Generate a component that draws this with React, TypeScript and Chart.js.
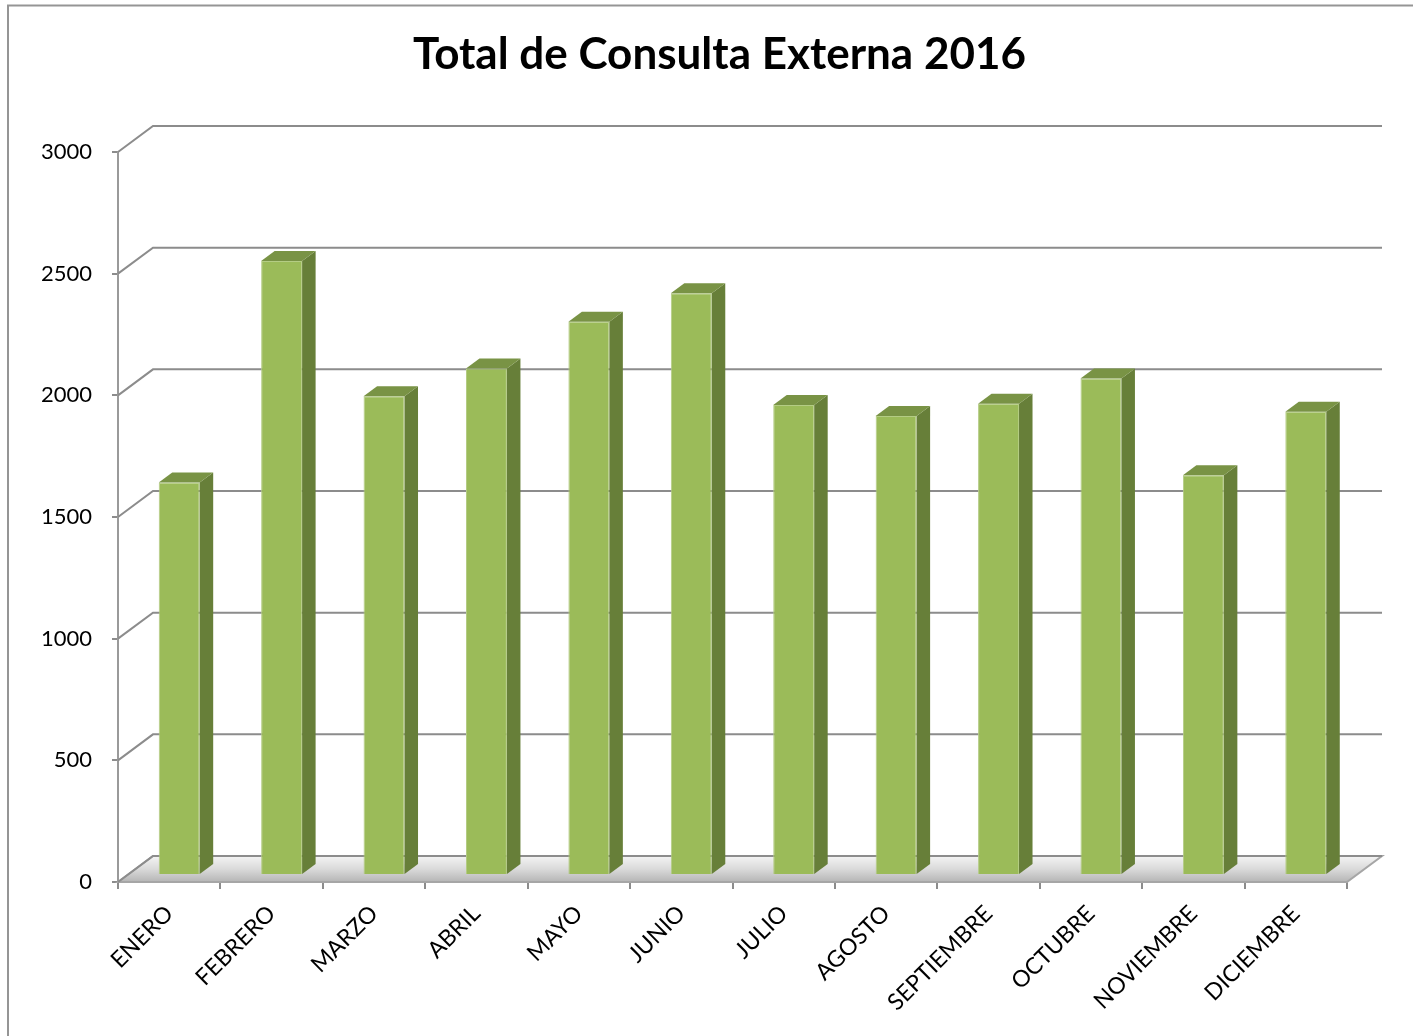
import React, { useEffect, useRef } from 'react';
import { Chart, registerables } from 'chart.js';

Chart.register(...registerables);

// ---- data ----
const categories = [
  'ENERO', 'FEBRERO', 'MARZO', 'ABRIL', 'MAYO', 'JUNIO',
  'JULIO', 'AGOSTO', 'SEPTIEMBRE', 'OCTUBRE', 'NOVIEMBRE', 'DICIEMBRE',
];
const consultas = [1613, 2523, 1967, 2081, 2274, 2391, 1931, 1886, 1937, 2040, 1643, 1904];
const yMin = 0;
const yMax = 3000;
const yStep = 500;
const chartTitle = 'Total de Consulta Externa 2016';

// ---- 3D look ----
const WALL_DX = 35;
const WALL_DY = -26;
const BAR_DX = 10;
const BAR_DY = -7;
const DEPTH_DX = 13.5;
const DEPTH_DY = -10;
const GRID = '#8c8c8c';
const FRONT = '#9bbb59';
const SIDE = '#677f39';
const TOP = '#799345';

const excel3d = {
  id: 'excel3d',
  beforeDraw(chart: any) {
    const ctx = chart.ctx;
    ctx.save();
    ctx.fillStyle = '#ffffff';
    ctx.fillRect(0, 0, chart.width, chart.height);
    ctx.strokeStyle = '#959595';
    ctx.lineWidth = 2;
    ctx.beginPath();
    ctx.moveTo(8, chart.height);
    ctx.lineTo(8, 5.5);
    ctx.lineTo(chart.width, 5.5);
    ctx.stroke();
    ctx.restore();
  },
  beforeDatasetsDraw(chart: any) {
    const ctx = chart.ctx;
    const a = chart.chartArea;
    const y = chart.scales.y;
    ctx.save();
    // floor
    const g = ctx.createLinearGradient(0, a.bottom + WALL_DY, 0, a.bottom);
    g.addColorStop(0, '#f4f4f4');
    g.addColorStop(0.5, '#dadada');
    g.addColorStop(1, '#b5b5b5');
    ctx.fillStyle = g;
    ctx.beginPath();
    ctx.moveTo(a.left, a.bottom);
    ctx.lineTo(a.left + WALL_DX, a.bottom + WALL_DY);
    ctx.lineTo(a.right + WALL_DX, a.bottom + WALL_DY);
    ctx.lineTo(a.right, a.bottom);
    ctx.closePath();
    ctx.fill();
    ctx.strokeStyle = '#a6a6a6';
    ctx.lineWidth = 2;
    ctx.stroke();
    // back wall + left wall gridlines
    ctx.strokeStyle = GRID;
    ctx.lineWidth = 2;
    for (let v = yMin; v <= yMax; v += yStep) {
      const py = y.getPixelForValue(v);
      ctx.beginPath();
      ctx.moveTo(a.left, py);
      ctx.lineTo(a.left + WALL_DX, py + WALL_DY);
      ctx.lineTo(a.right + WALL_DX, py + WALL_DY);
      ctx.stroke();
    }
    ctx.restore();
    ctx.save();
    ctx.translate(BAR_DX, BAR_DY);
  },
  afterDatasetsDraw(chart: any) {
    const ctx = chart.ctx;
    const meta = chart.getDatasetMeta(0);
    meta.data.forEach((bar: any) => {
      const { x, y, base, width } = bar.getProps(['x', 'y', 'base', 'width'], true);
      const l = x - width / 2;
      const r = x + width / 2;
      // side
      ctx.fillStyle = SIDE;
      ctx.beginPath();
      ctx.moveTo(r, y);
      ctx.lineTo(r + DEPTH_DX, y + DEPTH_DY);
      ctx.lineTo(r + DEPTH_DX, base + DEPTH_DY);
      ctx.lineTo(r, base);
      ctx.closePath();
      ctx.fill();
      // top
      ctx.fillStyle = TOP;
      ctx.beginPath();
      ctx.moveTo(l, y);
      ctx.lineTo(l + DEPTH_DX, y + DEPTH_DY);
      ctx.lineTo(r + DEPTH_DX, y + DEPTH_DY);
      ctx.lineTo(r, y);
      ctx.closePath();
      ctx.fill();
    });
    ctx.restore();
  },
};

export default function App() {
  const ref = useRef<HTMLCanvasElement | null>(null);

  useEffect(() => {
    if (!ref.current) return;
    const chart = new Chart(ref.current, {
      type: 'bar',
      data: {
        labels: categories,
        datasets: [
          {
            data: consultas,
            backgroundColor: FRONT,
            borderColor: '#b4cc84',
            borderWidth: 1,
            barPercentage: 0.4,
            categoryPercentage: 1,
            clip: false as any,
            yAxisID: 'y',
          },
        ],
      },
      options: {
        responsive: false,
        animation: false,
        events: [],
        layout: { padding: { left: 26, right: 0, top: 0, bottom: 0 } },
        plugins: {
          legend: { display: false },
          tooltip: { enabled: false },
          title: {
            display: true,
            text: chartTitle,
            color: '#000',
            font: { family: 'Lato', size: 44, weight: 'bold', lineHeight: 1.2 },
            padding: { top: 28, bottom: 71.2 },
          },
        },
        scales: {
          x: {
            offset: true,
            grid: {
              offset: true,
              drawOnChartArea: false,
              drawTicks: true,
              tickLength: 7,
              color: GRID,
              lineWidth: 2,
            },
            border: { display: true, color: '#a0a0a0', width: 2 },
            ticks: {
              autoSkip: false,
              maxRotation: 45,
              minRotation: 45,
              color: '#000',
              padding: 11,
              font: { family: 'Lato', size: 23 },
            },
            afterFit: (s: any) => {
              s.height = 154;
            },
          },
          y: {
            min: yMin,
            max: yMax,
            ticks: {
              stepSize: yStep,
              color: '#000',
              padding: 20,
              font: { family: 'Lato', size: 22 },
              callback: (v: any) => String(v),
            },
            grid: {
              drawOnChartArea: false,
              drawTicks: true,
              tickLength: 6,
              color: GRID,
              lineWidth: 2,
            },
            border: { display: true, color: '#9a9a9a', width: 2 },
            afterFit: (s: any) => {
              s.width = 92;
            },
          },
          yRight: {
            position: 'right',
            display: true,
            min: yMin,
            max: yMax,
            ticks: { display: false },
            grid: { display: false },
            border: { display: false },
            afterFit: (s: any) => {
              s.width = 66;
            },
          },
        },
      },
      plugins: [excel3d],
    });
    return () => chart.destroy();
  }, []);

  return (
    <canvas
      ref={ref}
      width={1413}
      height={1036}
      style={{ position: 'fixed', left: 0, top: 0, display: 'block' }}
    />
  );
}
